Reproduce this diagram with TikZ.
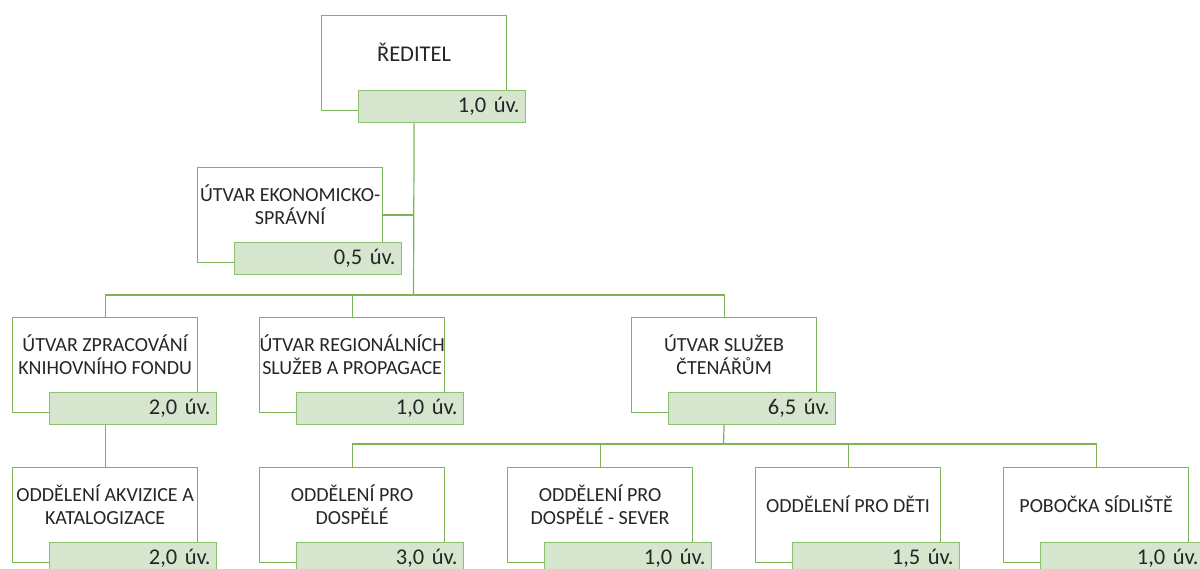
\documentclass[tikz,border=0pt]{standalone}
\usepackage{fontspec}
\setmainfont{Carlito}
\usetikzlibrary{calc}
\definecolor{boxgreen}{RGB}{122,180,86}
\definecolor{labfill}{RGB}{214,230,206}
\definecolor{labdraw}{RGB}{140,194,110}
\definecolor{txt}{RGB}{38,38,38}
\tikzset{
  orgbox/.style={draw=boxgreen, line width=1.2pt, fill=white, minimum width=185pt, minimum height=95pt, inner sep=0pt, anchor=north west},
  orglab/.style={draw=labdraw, line width=1.2pt, fill=labfill, minimum height=32pt, text width=155pt, inner xsep=6pt, inner ysep=0pt, align=right, anchor=north west, font=\fontsize{22.5}{24}\selectfont, text=txt},
  orgtxt/.style={align=center, font=\fontsize{20}{23}\selectfont, text=txt, inner sep=0pt},
  conn/.style={draw=boxgreen, line width=1.2pt}
}
\newcommand{\orgunit}[5]{%
  \node[orgbox] (#1) at (#2,#3) {};
  \node[orglab] (#1-l) at ($(#1.north west)+(37,75)$) {#5};
  \node[orgtxt] (#1-t) at ($(#1.north)+(0,37.5)$) {#4};
}
\begin{document}
\begin{tikzpicture}[x=1pt,y=-1pt]
\useasboundingbox (0,0) rectangle (1200,569);
\coordinate (bus2) at (413.5,295);
\coordinate (bus3) at (723.5,444);
\orgunit{red}{321}{15}{\fontsize{22.5}{26}\selectfont ŘEDITEL}{1,0 úv.}
\orgunit{eko}{197}{167}{ÚTVAR EKONOMICKO-\\SPRÁVNÍ}{0,5 úv.}
\orgunit{zpr}{12}{317}{ÚTVAR ZPRACOVÁNÍ\\KNIHOVNÍHO FONDU}{2,0 úv.}
\orgunit{reg}{259}{317}{ÚTVAR REGIONÁLNÍCH\\SLUŽEB A PROPAGACE}{1,0 úv.}
\orgunit{cten}{631}{317}{ÚTVAR SLUŽEB\\ČTENÁŘŮM}{6,5 úv.}
\orgunit{akv}{12}{467}{ODDĚLENÍ AKVIZICE A\\KATALOGIZACE}{2,0 úv.}
\orgunit{dos}{259}{467}{ODDĚLENÍ PRO\\DOSPĚLÉ}{3,0 úv.}
\orgunit{sev}{507}{467}{ODDĚLENÍ PRO\\DOSPĚLÉ - SEVER}{1,0 úv.}
\orgunit{det}{755}{467}{ODDĚLENÍ PRO DĚTI}{1,5 úv.}
\orgunit{pob}{1003}{467}{POBOČKA SÍDLIŠTĚ}{1,0 úv.\hspace*{3pt}}
\draw[conn] (red.south |- red-l.south) -- (bus2);
\draw[conn] (eko.east) -- (eko.east -| bus2);
\draw[conn] (zpr.north) -- (zpr.north |- bus2) -- (cten.north |- bus2) -- (cten.north);
\draw[conn] (reg.north) -- (reg.north |- bus2);
\draw[conn] (zpr.south |- zpr-l.south) -- (akv.north);
\draw[conn] (cten.south |- cten-l.south) -- (bus3);
\draw[conn] (dos.north) -- (dos.north |- bus3) -- (pob.north |- bus3) -- (pob.north);
\draw[conn] (sev.north) -- (sev.north |- bus3);
\draw[conn] (det.north) -- (det.north |- bus3);
\end{tikzpicture}
\end{document}
